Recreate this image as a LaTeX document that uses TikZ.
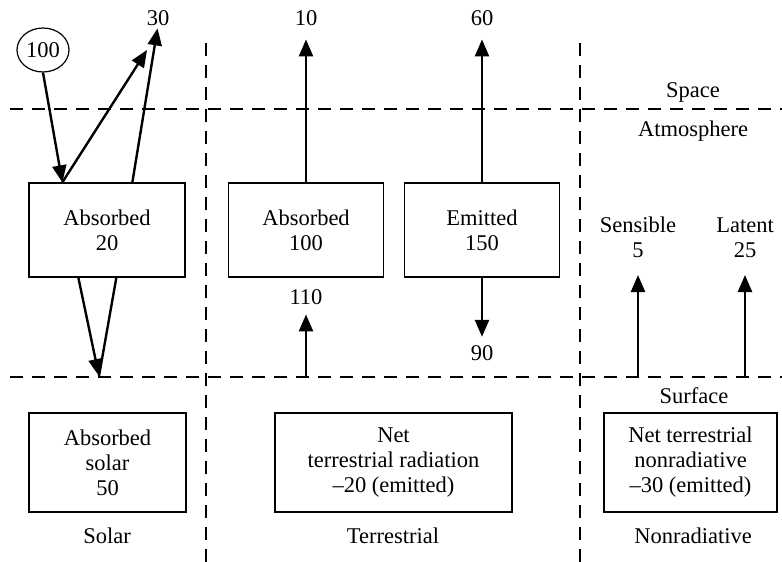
\documentclass[tikz,border=0pt]{standalone}
\usepackage{fontspec}
\setmainfont{Liberation Serif}
\usetikzlibrary{arrows.meta,shapes.geometric,calc}
\begin{document}
\begin{tikzpicture}[x=1pt,y=-1pt,
  every node/.style={font=\fontsize{22.5}{25}\selectfont, inner sep=0pt},
  box/.style={draw, line width=1.3pt, rectangle, align=center},
  flow/.style={line width=2.4pt, -{Triangle[length=17pt,width=14pt]}},
  plainflow/.style={line width=2.4pt},
  divider/.style={line width=1.2pt, dash pattern=on 13pt off 9pt},
]
\useasboundingbox (0,0) rectangle (782,562);
% dividers
\coordinate (hl1) at (10,109);  \coordinate (hr1) at (782,109);
\coordinate (hl2) at (10,377);  \coordinate (hr2) at (782,377);
\coordinate (vt1) at (206,43);  \coordinate (vb1) at (206,562);
\coordinate (vt2) at (580,43);  \coordinate (vb2) at (580,562);
\draw[divider] (hl1) -- (hr1);
\draw[divider] (hl2) -- (hr2);
\draw[divider] (vt1) -- (vb1);
\draw[divider] (vt2) -- (vb2);
% boxes
\node[box, minimum width=156pt, minimum height=94pt] (b1) at (107,230) {Absorbed\\20};
\node[box, minimum width=155pt, minimum height=94pt] (b2) at (306,230) {Absorbed\\100};
\node[box, minimum width=155pt, minimum height=94pt] (b3) at (482,230) {Emitted\\150};
\node[box, minimum width=157pt, minimum height=99pt] (b4) at (107.5,462.5) {Absorbed\\solar\\50};
\node[box, minimum width=237pt, minimum height=99pt] (b5) at (393.5,462.5) {Net\\terrestrial radiation\\–20 (emitted)};
\node[box, minimum width=173pt, minimum height=99pt] (b6) at (690.5,462.5) {Net terrestrial\\nonradiative\\–30 (emitted)};
\node[draw, ellipse, line width=1.2pt, minimum width=52pt, minimum height=44pt] (c100) at (43,50) {100};
% labels
\node[anchor=base] (t30) at (158,25) {30};
\node[anchor=base] (t10) at (306,25) {10};
\node[anchor=base] (t60) at (482,25) {60};
\node[anchor=base] (tspace) at (693,97) {Space};
\node[anchor=base] (tatm) at (693,136) {Atmosphere};
\node[anchor=base] (tsurf) at (694,403) {Surface};
\node[anchor=base] (t110) at (306,304) {110};
\node[anchor=base] (t90) at (482,360) {90};
\node[anchor=south, align=center] (tsens) at (638,258) {Sensible\\5};
\node[anchor=south, align=center] (tlat) at (745,258) {Latent\\25};
\node[anchor=base] (tsolar) at (107,543) {Solar};
\node[anchor=base] (tterr) at (393,543) {Terrestrial};
\node[anchor=base] (tnon) at (693,543) {Nonradiative};
% connector points
\coordinate (r1) at (147,50);
\coordinate (a1) at ($(b1.north west)+(34,0)$);
\coordinate (a2) at ($(b1.north west)+(104,0)$);
\coordinate (d1) at ($(b1.south west)+(50,0)$);
\coordinate (d2) at ($(b1.south west)+(88,0)$);
\coordinate (s1) at (99,376);
\coordinate (s110) at (306,377);
\coordinate (ssens) at (638,377);
\coordinate (slat) at (745,377);
% arrows
\draw[flow] (c100.south) -- (a1);
\draw[flow] (a1) -- (r1);
\draw[flow, shorten >=3pt] (a2) -- (t30.south);
\draw[flow, shorten >=14pt] (b2.north) -- (t10.south);
\draw[flow, shorten >=14pt] (b3.north) -- (t60.south);
\draw[flow] (d1) -- (s1);
\draw[plainflow] (s1) -- (d2);
\draw[flow, shorten >=10pt] (s110) -- (t110.south);
\draw[flow, shorten >=8pt] (b3.south) -- (t90.north);
\draw[flow, shorten >=17pt] (ssens) -- (tsens.south);
\draw[flow, shorten >=17pt] (slat) -- (tlat.south);
\end{tikzpicture}
\end{document}
